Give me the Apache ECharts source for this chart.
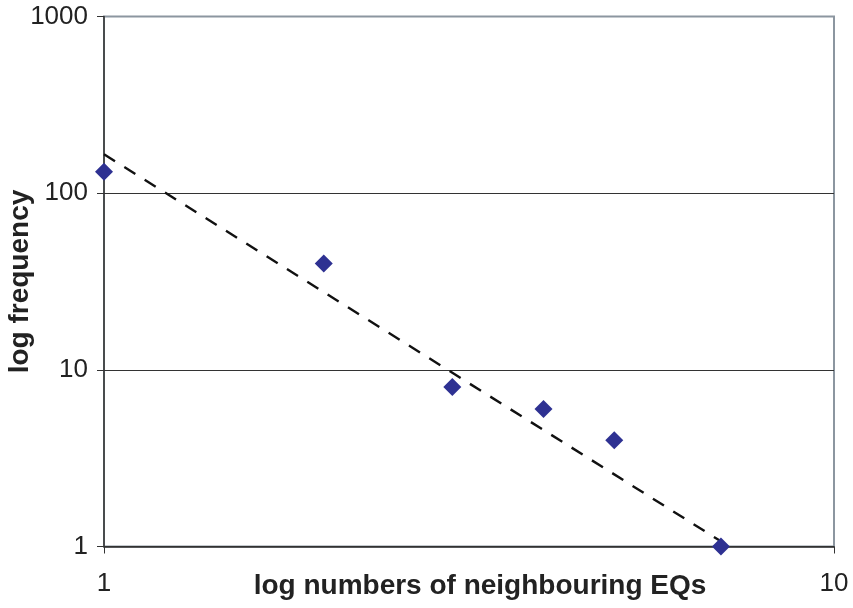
<!DOCTYPE html>
<html>
<head>
<meta charset="utf-8">
<script src="https://cdn.jsdelivr.net/npm/echarts@6/dist/echarts.min.js"></script>
<style>
  html, body { margin: 0; padding: 0; background: #fff; }
  #chart { width: 853px; height: 608px; }
</style>
</head>
<body>
<div id="chart"></div>
<script>
// neighbouring EQ counts and how often each occurs
const neighbours = [1, 2, 3, 4, 5, 7]
const frequency = [132, 40, 8, 6, 4, 1]
// power trendline, end points
const trendX = [1, 7]
const trendY = [166, 1.07]
const yTickColors = ["#333", "#333", "#333", "#8c96a0"]

const points = neighbours.map((n, i) => [n, frequency[i]])
const trend = trendX.map((x, i) => [x, trendY[i]])

const chart = echarts.init(document.getElementById("chart"))
const font = "Liberation Sans, Arial, sans-serif"

chart.setOption({
  animation: false,
  grid: {
    left: 104,
    right: 19,
    top: 16.5,
    bottom: 61.5,
    outerBoundsMode: "none",
    containLabel: false,
    show: true,
    borderColor: "#8c96a0",
    borderWidth: 2,
  },
  xAxis: {
    type: "log",
    logBase: 10,
    min: 1,
    max: 10,
    name: "log numbers of neighbouring EQs",
    nameLocation: "middle",
    nameGap: 26,
    nameMoveOverlap: false,
    nameTextStyle: {
      fontFamily: font,
      fontWeight: "bold",
      fontSize: 28,
      color: "#222",
      padding: [0, 0, 0, 22],
    },
    axisLine: { lineStyle: { color: "#333", width: 1.5 } },
    axisTick: { show: true, length: 7, inside: false, lineStyle: { color: "#333" } },
    minorTick: { show: false },
    splitLine: { show: false },
    axisLabel: {
      fontFamily: font,
      fontSize: 26,
      color: "#222",
      margin: 24,
      formatter: (v) => String(v),
    },
  },
  yAxis: {
    type: "log",
    logBase: 10,
    min: 1,
    max: 1000,
    name: "log frequency",
    nameLocation: "middle",
    nameGap: 70,
    nameRotate: 90,
    nameMoveOverlap: false,
    nameTextStyle: {
      fontFamily: font,
      fontWeight: "bold",
      fontSize: 28,
      color: "#222",
    },
    axisLine: { lineStyle: { color: "#333", width: 1.5 } },
    axisTick: { show: true, length: 7, lineStyle: { color: "#333" } },
    splitLine: { show: true, lineStyle: { color: yTickColors, width: 1 } },
    axisLabel: {
      fontFamily: font,
      fontSize: 26,
      color: "#222",
      margin: 16,
      formatter: (v) => String(v),
    },
  },
  series: [
    {
      name: "trend",
      type: "line",
      data: trend,
      symbol: "none",
      lineStyle: { color: "#111", width: 2.4, type: [13, 11] },
      z: 2,
    },
    {
      name: "frequency",
      type: "scatter",
      data: points,
      symbol: "diamond",
      symbolSize: 18,
      itemStyle: { color: "#2e3192", opacity: 1 },
      z: 3,
    },
  ],
})
</script>
</body>
</html>
